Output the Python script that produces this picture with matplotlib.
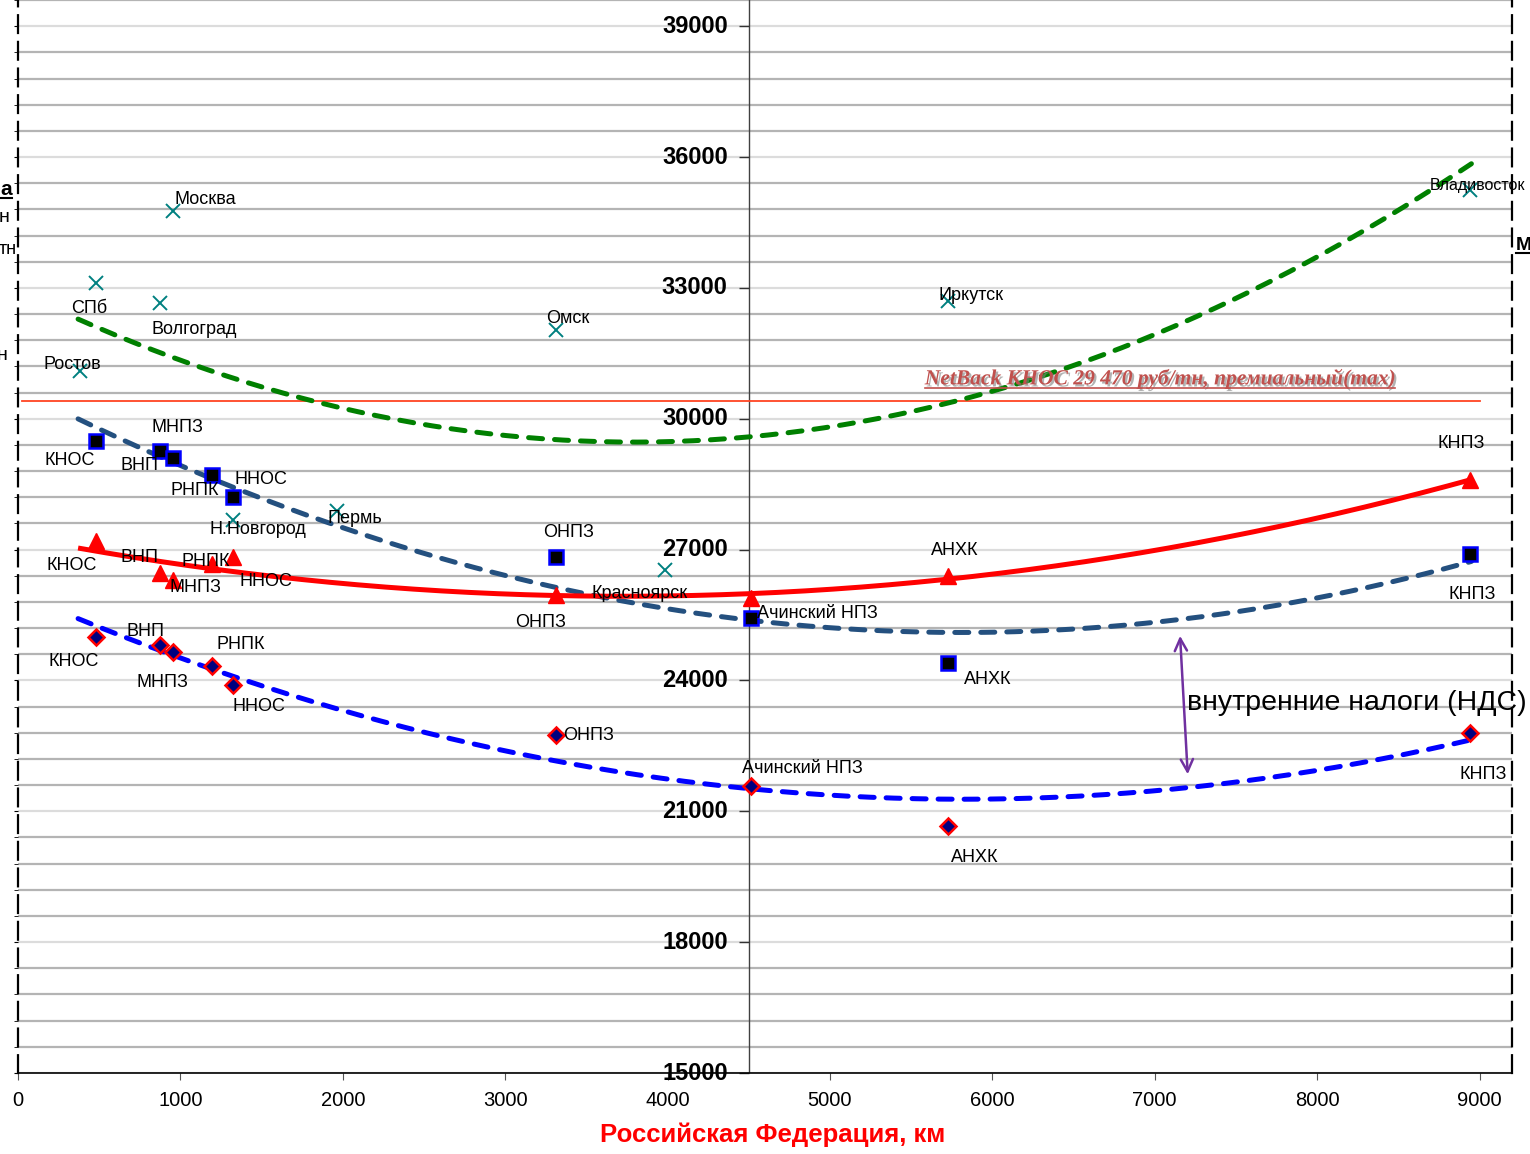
import matplotlib
matplotlib.use('Agg')
import matplotlib.pyplot as plt
import numpy as np
from matplotlib.ticker import MultipleLocator
import matplotlib.patheffects as pe
from matplotlib.lines import Line2D
import matplotlib.markers as mmarkers
from matplotlib.transforms import IdentityTransform

plt.rcParams['font.family'] = ['Liberation Sans', 'DejaVu Sans']

# ---------------- data ----------------
city_names = ['Москва', 'СПб', 'Волгоград', 'Ростов', 'Омск', 'Иркутск',
              'Владивосток', 'Пермь', 'Н.Новгород', 'Красноярск']
city_x = [954, 480, 874, 382, 3313, 5727, 8941, 1964, 1324, 3984]
city_y = [34760, 33110, 32650, 31090, 32030, 32700, 35240, 27880, 27680, 26530]

plant_names = ['КНОС', 'ВНП', 'МНПЗ', 'РНПК', 'ННОС', 'ОНПЗ',
               'Ачинский НПЗ', 'АНХК', 'КНПЗ']
plant_x = [480, 874, 954, 1195, 1324, 3313, 4514, 5727, 8941]
square_y = [29490, 29260, 29100, 28710, 28200, 26830, 25430, 24400, 26900]
triangle_y = [27200, 26460, 26300, 26670, 26830, 25960, 25890, 26390, 28590]
diamond_y = [24990, 24810, 24650, 24330, 23890, 22750, 21580, 20660, 22790]

netback_level = 30400
netback_label = 'NetBack КНОС 29 470 руб/тн, премиальный(max)'
tax_label = 'внутренние налоги (НДС)'
xlabel = 'Российская Федерация, км'
x_ticks = [0, 1000, 2000, 3000, 4000, 5000, 6000, 7000, 8000, 9000]
y_labels = [15000, 18000, 21000, 24000, 27000, 30000, 33000, 36000, 39000]

# label offsets (pixels: dx, dy up)
city_off = [(32, 12), (-7, -25), (34, -26), (-8, 7), (12, 12), (23, 5),
            (8, 5), (18, -7), (25, -10), (-25, -23)]
square_off = [(-26, -20), (-20, -14), (5, 30), (-17, -16), (28, 18),
              (13, 25), (66, 5), (40, -17), (2, -41)]
triangle_off = [(-24, -25), (-20, 16), (23, -7), (-6, 2), (33, -24),
                (-15, -28), None, (7, 26), (-9, 37)]
diamond_off = [(-22, -24), (-14, 14), (-10, -30), (29, 22), (26, -21),
               (33, -1), (51, 17), (27, -31), (13, -41)]

# ---------------- figure ----------------
W, H = 1530, 1154
fig = plt.figure(figsize=(W / 100, H / 100), dpi=100)
ax = fig.add_axes([18 / W, 81 / H, 1494 / W, 1073 / H])
ax.set_xlim(0, 9200)
ax.set_ylim(15000, 39600)

ax.yaxis.set_major_locator(MultipleLocator(3000))
ax.yaxis.set_minor_locator(MultipleLocator(600))
ax.grid(which='minor', axis='y', color='#b4b4b4', lw=1.6, zorder=0)
ax.grid(which='major', axis='y', color='#dcdcdc', lw=1.6, zorder=0)
ax.set_axisbelow(True)
ax.tick_params(axis='y', which='both', labelleft=False, left=True, right=False,
               length=3, color='k', direction='out')
ax.set_xticks(x_ticks)
ax.set_xticklabels([str(v) for v in x_ticks], fontsize=14.5)
ax.tick_params(axis='x', length=5, color='#555555', pad=8)

ax.spines['top'].set_visible(False)
ax.spines['bottom'].set_color('black')
ax.spines['bottom'].set_linewidth(1.2)
for s in ('left', 'right'):
    ax.spines[s].set_linestyle((0, (8, 4)))
    ax.spines[s].set_linewidth(1.6)
    ax.spines[s].set_color('black')

# central axis line with labels
ax.axvline(4500, color='#404040', lw=1, zorder=1)
ax.plot(np.full(len(y_labels), 4500), y_labels, linestyle='none',
        marker=mmarkers.TICKLEFT, markersize=7, color='#333333', clip_on=False)
for v in y_labels:
    ax.annotate(str(v), (4500, v), xytext=(-21, 0), textcoords='offset pixels',
                ha='right', va='center', fontsize=17, fontweight='bold',
                annotation_clip=False, zorder=5)

# netback line
ax.plot([25, 9000], [netback_level, netback_level], color='#ff4422', lw=1.3, zorder=2)

# trend lines (2nd order polynomial)
xs = np.linspace(370, 8950, 300)
dash = dict(dashes=(2.8, 2.4), dash_capstyle='round')
c = np.polyfit(city_x, city_y, 2)
ax.plot(xs, np.polyval(c, xs), color='#008000', lw=3.6, zorder=3, **dash)
c = np.polyfit(plant_x, square_y, 2)
ax.plot(xs, np.polyval(c, xs), color='#24507f', lw=3.6, zorder=3, **dash)
c = np.polyfit(plant_x, triangle_y, 2)
ax.plot(xs, np.polyval(c, xs), color='#ff0000', lw=3.6, zorder=3, solid_capstyle='butt')
c = np.polyfit(plant_x, diamond_y, 2)
ax.plot(xs, np.polyval(c, xs), color='#0000ff', lw=3.6, zorder=3, **dash)

# markers
ax.plot(city_x, city_y, linestyle='none', marker='x', markersize=10,
        mew=1.4, color='#008080', zorder=4)
ax.plot(plant_x, square_y, linestyle='none', marker='s', markersize=10.5,
        mfc='black', mec='#0000ff', mew=1.8, zorder=4)
ax.plot(plant_x, triangle_y, linestyle='none', marker='^', markersize=12,
        mfc='#ff0000', mec='#ff0000', zorder=4)
ax.plot(plant_x, diamond_y, linestyle='none', marker='D', markersize=8,
        mfc='#000080', mec='#ff0000', mew=1.8, zorder=4)

def labels(names, xv, yv, offs, size=13):
    for n, x, y, o in zip(names, xv, yv, offs):
        if o is None:
            continue
        fs = 11.5 if n == 'Владивосток' else size
        ax.annotate(n, (x, y), xytext=o, textcoords='offset pixels',
                    ha='center', va='center', fontsize=fs, zorder=6,
                    annotation_clip=False)

labels(city_names, city_x, city_y, city_off)
labels(plant_names, plant_x, square_y, square_off)
labels(plant_names, plant_x, triangle_y, triangle_off)
labels(plant_names, plant_x, diamond_y, diamond_off)

# NetBack text
nb = ax.text(7032, 30908, netback_label, ha='center', va='center',
             fontsize=15.5, fontstyle='italic', fontweight='bold',
             family=['Liberation Serif', 'DejaVu Serif'], color='#c0504d', zorder=6,
             path_effects=[pe.SimplePatchShadow(offset=(1.5, -1.5),
                                                shadow_rgbFace='#808080', alpha=0.6),
                           pe.Normal()])

# tax annotation
ax.annotate('', xy=(7155, 25086), xytext=(7204, 21785),
            arrowprops=dict(arrowstyle='<->', color='#7030a0', lw=1.8,
                            mutation_scale=22), zorder=6)
ax.text(7198, 23481, tax_label, ha='left', va='center', fontsize=20.5, zorder=6,
        clip_on=False)

# x label
fig.text(773 / W, 1 - 1135 / H, xlabel, ha='center', va='center',
         fontsize=18.5, fontweight='bold', color='#ff0000')

# remnants of outer texts at the figure edges
ta = fig.text(12 / W, 1 - 190 / H, 'а', ha='right', va='center', fontsize=15,
              fontweight='bold')
fig.text(10 / W, 1 - 218 / H, 'н', ha='right', va='center', fontsize=14)
fig.text(17 / W, 1 - 250 / H, 'тн', ha='right', va='center', fontsize=13)
fig.text(8 / W, 1 - 355 / H, 'н', ha='right', va='center', fontsize=14)
tm = fig.text(1516 / W, 1 - 246 / H, 'М', ha='left', va='center', fontsize=14,
              fontweight='bold')

fig.canvas.draw()

def underline(t, color, lw, x0=None):
    bb = t.get_window_extent()
    y = bb.y0 + 1.5
    fig.add_artist(Line2D([bb.x0 if x0 is None else x0, bb.x1], [y, y],
                          transform=IdentityTransform(), color=color, lw=lw))

underline(nb, '#c0504d', 1.2)
underline(ta, 'black', 1.5)
underline(tm, 'black', 1.5)

fig.savefig('out.png', dpi=100)
